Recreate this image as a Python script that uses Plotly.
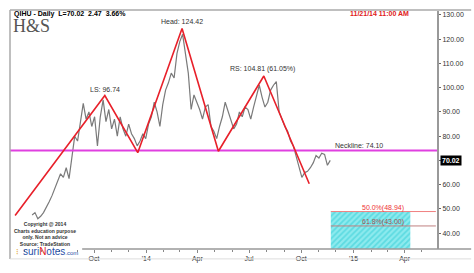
import plotly.graph_objects as go
import pandas as pd

# ---- data ----
price_start = "2013-06-14"
price_end = "2014-11-21"
closes = [47.5, 48.5, 46.0, 47.0, 48.5, 50.5, 53.0, 55.5, 58.5, 61.0,
          64.5, 63.0, 67.0, 62.5, 71.0, 80.0, 78.0, 86.0, 93.5, 87.0,
          90.0, 84.0, 88.0, 76.0, 88.0, 95.0, 86.0, 91.0, 83.0, 87.0,
          80.0, 88.0, 83.0, 80.0, 85.0, 81.0, 79.0, 76.0, 78.0, 81.0,
          79.0, 85.0, 88.0, 94.0, 90.0, 84.0, 93.0, 99.0, 102.0, 106.0,
          104.0, 114.0, 119.0, 122.0, 113.0, 106.0, 91.0, 97.0, 94.0, 91.0,
          87.0, 92.0, 93.0, 84.0, 82.0, 79.0, 84.0, 88.0, 94.0, 90.0,
          86.0, 83.0, 85.0, 90.0, 88.0, 92.0, 91.0, 87.0, 92.0, 96.0,
          101.0, 96.0, 92.0, 94.0, 99.0, 101.0, 102.5, 90.0, 87.0, 84.0,
          82.0, 78.0, 76.0, 72.0, 67.0, 63.0, 65.0, 65.5, 67.0, 69.0,
          72.0, 71.0, 73.0, 72.5, 68.0, 70.02]

hs_dates = ["2013-05-15", "2013-10-20", "2013-12-17", "2014-03-05",
            "2014-05-08", "2014-07-27", "2014-10-15"]
hs_values = [47.3, 96.74, 73.2, 124.42, 73.8, 104.81, 60.4]

neckline = 74.10
fib_levels = [48.94, 43.00]
fib_labels = ["50.0%(48.94)", "61.8%(43.00)"]
fib_box_dates = ["2014-11-22", "2015-04-11"]

tick_dates = ["2013-10-01", "2014-01-01", "2014-04-01", "2014-07-01",
              "2014-10-01", "2015-01-01", "2015-04-01"]
tick_text = ["Oct", "'14", "Apr", "Jul", "Oct", "'15", "Apr"]
y_ticks = [40, 50, 60, 70, 80, 90, 100, 110, 120, 130]

x_range = ["2013-05-06", "2015-05-28"]
y_range = [33.5, 131.6]

dates = pd.date_range(price_start, price_end, freq="5D")

fig = go.Figure()

# fib box (hatched)
fig.add_trace(go.Scatter(
    x=[fib_box_dates[0], fib_box_dates[1], fib_box_dates[1], fib_box_dates[0], fib_box_dates[0]],
    y=[fib_levels[0], fib_levels[0], y_range[0], y_range[0], fib_levels[0]],
    mode="lines", fill="toself", line=dict(width=0, color="#40d8e0"),
    fillcolor="#7fe6ea",
    fillpattern=dict(shape="/", bgcolor="#8deaee", fgcolor="#2ccbd3", size=4, solidity=0.45),
    hoverinfo="skip", showlegend=False))

# fib lines
fig.add_trace(go.Scatter(x=[fib_box_dates[0], "2015-05-26"], y=[fib_levels[0]] * 2,
                         mode="lines", line=dict(color="#f08080", width=1), showlegend=False))
fig.add_trace(go.Scatter(x=[fib_box_dates[0], "2015-05-26"], y=[fib_levels[1]] * 2,
                         mode="lines", line=dict(color="#c08080", width=1), showlegend=False))

# price
fig.add_trace(go.Scatter(x=dates, y=closes, mode="lines",
                         line=dict(color="#7a7a7a", width=1.2), showlegend=False))

# neckline
fig.add_trace(go.Scatter(x=x_range, y=[neckline, neckline], mode="lines",
                         line=dict(color="#e040e0", width=2), showlegend=False))

# H&S line
fig.add_trace(go.Scatter(x=hs_dates, y=hs_values, mode="lines",
                         line=dict(color="#e8202a", width=1.6), showlegend=False))

ann_font = dict(family="Liberation Sans, Arial", size=7, color="#333333")
annotations = [
    dict(x=hs_dates[1], y=hs_values[1], text="LS: 96.74", showarrow=False,
         yanchor="bottom", yshift=1, font=ann_font),
    dict(x=hs_dates[3], y=hs_values[3], text="Head: 124.42", showarrow=False,
         yanchor="bottom", yshift=1, font=ann_font),
    dict(x="2014-07-25", y=hs_values[5], text="RS: 104.81 (61.05%)", showarrow=False,
         yanchor="bottom", yshift=1, font=ann_font),
    dict(x="2015-01-10", y=neckline, text="Neckline: 74.10", showarrow=False,
         yanchor="bottom", yshift=0, font=ann_font),
    dict(x="2015-04-03", y=fib_levels[0], text=fib_labels[0], showarrow=False,
         xanchor="right", yanchor="bottom", yshift=-2,
         font=dict(family="Liberation Sans, Arial", size=7, color="#ee3333")),
    dict(x="2015-04-03", y=fib_levels[1], text=fib_labels[1], showarrow=False,
         xanchor="right", yanchor="bottom", yshift=-2,
         font=dict(family="Liberation Sans, Arial", size=7, color="#a05050")),
    # last price box
    dict(xref="paper", x=1.006, y=closes[-1], text="<b>70.02</b>", showarrow=False,
         xanchor="left", bgcolor="black", borderpad=1,
         font=dict(family="Liberation Sans, Arial", size=7, color="white")),
    # header texts
    dict(xref="paper", yref="paper", x=0.004, y=0.988, text="<b>QIHU - Daily  L=70.02  2.47  3.66%</b>",
         showarrow=False, xanchor="left", yanchor="middle",
         font=dict(family="Liberation Sans, Arial", size=7, color="black")),
    dict(xref="paper", yref="paper", x=0.003, y=0.938, text="H&amp;S",
         showarrow=False, xanchor="left", yanchor="middle",
         font=dict(family="Liberation Serif, Times New Roman", size=18, color="#555555")),
    dict(xref="paper", yref="paper", x=0.94, y=0.988, text="<b>11/21/14 11:00 AM</b>",
         showarrow=False, xanchor="right", yanchor="middle",
         font=dict(family="Liberation Sans, Arial", size=7, color="#e02020")),
    dict(xref="paper", yref="paper", x=(45 - 10) / 432, y=(252 - 237) / 241,
         text="<b>Copyright @ 2014<br>Charts education purpose<br>only. Not an advice<br>Source: TradeStation</b>",
         showarrow=False, xanchor="center", yanchor="middle", align="center",
         font=dict(family="Liberation Sans, Arial", size=5, color="#333333")),
    dict(xref="paper", yref="paper", x=(14 - 10) / 432, y=(252 - 255) / 241,
         text="<span style='color:#e0a020'>⁝</span> ",
         showarrow=False, xanchor="left", yanchor="middle",
         font=dict(family="DejaVu Sans", size=8, color="#40a040")),
    dict(xref="paper", yref="paper", x=(21 - 10) / 432, y=(252 - 255) / 241,
         text="<span style='color:#1f4fa8'>suri</span><span style='color:#e02020'>N</span>"
              "<span style='color:#1f4fa8'>otes</span><span style='color:#1f4fa8;font-size:6px'>.com</span>",
         showarrow=False, xanchor="left", yanchor="middle",
         font=dict(family="Liberation Sans, Arial", size=10, color="#1f4fa8")),
]

shapes = [
    # outer frame top and left
    dict(type="line", xref="paper", yref="paper", x0=0, x1=1.08, y0=(252 - 10) / 241, y1=(252 - 10) / 241,
         line=dict(color="#aaaaaa", width=1.5)),
    dict(type="line", xref="paper", yref="paper", x0=0, x1=0, y0=(252 - 10) / 241, y1=(252 - 262) / 241,
         line=dict(color="#aaaaaa", width=1.5)),
    dict(type="line", xref="paper", yref="paper", x0=0, x1=1.08, y0=(252 - 262) / 241, y1=(252 - 262) / 241,
         line=dict(color="#dddddd", width=1)),
    # x axis line
    dict(type="line", xref="paper", yref="paper", x0=(83 - 10) / 432, x1=1.08, y0=0, y1=0,
         line=dict(color="#999999", width=1.5)),
]

fig.update_layout(
    width=474, height=273,
    margin=dict(l=10, r=32, t=11, b=21),
    paper_bgcolor="white", plot_bgcolor="white",
    showlegend=False,
    annotations=annotations, shapes=shapes,
    xaxis=dict(range=x_range, type="date", tickvals=tick_dates, ticktext=tick_text,
               showgrid=False, zeroline=False, showline=False,
               ticks="outside", ticklen=3, tickcolor="#888888",
               tickfont=dict(family="Liberation Sans, Arial", size=7, color="#333333"),
               minor=dict(dtick="M1", ticks="outside", ticklen=2, tickcolor="#888888", showgrid=False)),
    yaxis=dict(range=y_range, side="right", tickvals=y_ticks,
               ticktext=[f"{v:.2f}" for v in y_ticks],
               showgrid=False, zeroline=False, showline=True, linecolor="#999999", linewidth=2,
               ticks="outside", ticklen=2, tickcolor="#666666",
               tickfont=dict(family="Liberation Sans, Arial", size=7, color="#333333")),
)

fig.write_html("out.html")
